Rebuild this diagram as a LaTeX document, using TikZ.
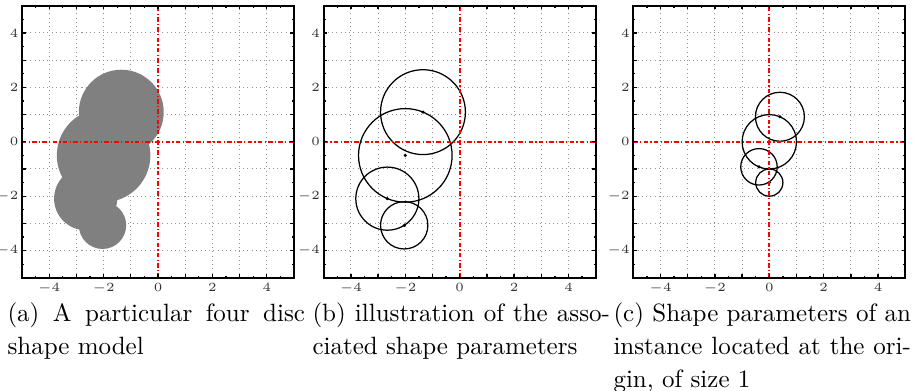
\documentclass[tikz,border=0pt]{standalone}
\usepackage{tikz}

\begin{document}
\begin{tikzpicture}[
    x=0.4pt, y=0.4pt,
    frame/.style={draw=black, line width=0.8pt},
    tickmark/.style={draw=black, line width=0.5pt},
    gridline/.style={draw=gray!85, line width=0.4pt, dash pattern=on 0.4pt off 1.3pt},
    axisline/.style={draw=red, line width=0.7pt, dash pattern=on 1.8pt off 0.9pt on 0.5pt off 0.9pt},
    disc/.style={fill=gray},
    ring/.style={draw=black, line width=0.5pt},
    centre/.style={fill=black},
    ticklab/.style={font=\fontsize{3}{4}\selectfont, inner sep=0.2pt, text=black!80},
    caption/.style={text width=119pt, align=justify, inner sep=0pt, anchor=base west,
        font=\fontsize{10}{13.1}\selectfont}
  ]
  \useasboundingbox (0,0) rectangle (917,391);
  % dotted grids
  \foreach \px in {158, 459.7, 769.3} {
    \begin{scope}[shift={(\px,249.2)}, x=10.88pt, y=10.88pt]
      \foreach \g in {-4,-3,-2,-1,1,2,3,4} {
        \draw[gridline] (\g,-5) -- (\g,5);
        \draw[gridline] (-5,\g) -- (5,\g);
      }
    \end{scope}
  }
  % (a) shape model
  \begin{scope}[shift={(158,249.2)}, x=10.88pt, y=10.88pt]
    \foreach \cx/\cy/\r in {-1.35/1.09/1.56, -2.0/-0.5/1.72, -2.66/-2.09/1.16, -2.04/-3.07/0.87}
      \fill[disc] (\cx,\cy) circle (\r);
  \end{scope}
  % (b) shape parameters
  \begin{scope}[shift={(459.7,249.2)}, x=10.88pt, y=10.88pt]
    \foreach \cx/\cy/\r in {-1.35/1.09/1.56, -2.0/-0.5/1.72, -2.66/-2.09/1.16, -2.04/-3.07/0.87} {
      \draw[ring] (\cx,\cy) circle (\r);
      \fill[centre] (\cx,\cy) circle[radius=0.7pt];
    }
  \end{scope}
  % (c) normalised instance
  \begin{scope}[shift={(769.3,249.2)}, x=10.88pt, y=10.88pt]
    \foreach \cx/\cy/\r in {0.39/0.92/0.9, 0/0/1, -0.38/-0.92/0.67, 0/-1.5/0.5} {
      \draw[ring] (\cx,\cy) circle (\r);
      \fill[centre] (\cx,\cy) circle[radius=0.7pt];
    }
  \end{scope}
  % axes, ticks and frames
  \foreach \px/\pn in {158/a, 459.7/b, 769.3/c} {
    \begin{scope}[shift={(\px,249.2)}, x=10.88pt, y=10.88pt]
      \draw[axisline] (-5,0) -- (5,0);
      \draw[axisline] (0,-5) -- (0,5);
      \foreach \t in {-4,...,4}
        \draw[tickmark] (\t,-5) -- ++(0,0.13) (\t,5) -- ++(0,-0.13)
          (-5,\t) -- ++(0.13,0) (5,\t) -- ++(-0.13,0);
      \foreach \t in {-4.5,-3.5,...,4.5}
        \draw[tickmark] (\t,-5) -- ++(0,0.08) (\t,5) -- ++(0,-0.08)
          (-5,\t) -- ++(0.08,0) (5,\t) -- ++(-0.08,0);
      \draw[frame] (-5,-5) rectangle (5,5);
      \foreach \v [count=\k] in {-4,-2,0,2,4} {
        \node[ticklab, anchor=north] (x\pn\k) at (\v,-5.17) {$\v$};
        \node[ticklab, anchor=east] (y\pn\k) at (-5.1,\v) {$\v$};
      }
    \end{scope}
  }
  % sub-captions
  \node[caption] (capa) at (7,69) {(a) A particular four disc\linebreak shape model};
  \node[caption] (capb) at (312,69) {(b) illustration of the asso-\linebreak ciated shape parameters};
  \node[caption] (capc) at (613,69) {(c) Shape parameters of an\linebreak instance located at the ori-\linebreak gin, of size 1};
\end{tikzpicture}
\end{document}
